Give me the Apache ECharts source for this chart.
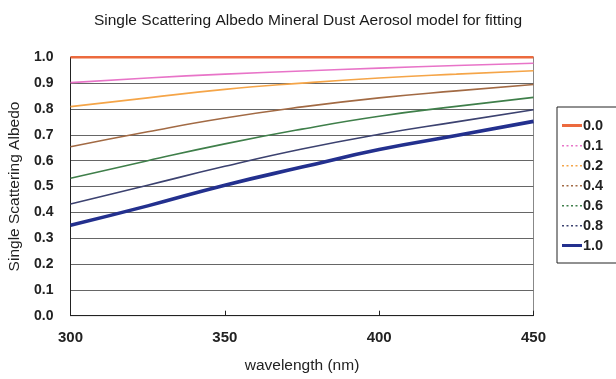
<!DOCTYPE html>
<html>
<head>
<meta charset="utf-8">
<script src="https://cdn.jsdelivr.net/npm/echarts@6/dist/echarts.min.js"></script>
<style>
  html, body { margin: 0; padding: 0; background: #fff; }
  #chart { width: 616px; height: 379px; }
</style>
</head>
<body>
<div id="chart"></div>
<script>
// Wavelengths (nm) at which the albedo is sampled
const wavelengths = [300, 325, 350, 375, 400, 425, 450];

// Single scattering albedo for each mixing fraction
const ssa00 = [1.0, 1.0, 1.0, 1.0, 1.0, 1.0, 1.0];
const ssa01 = [0.902, 0.920, 0.935, 0.947, 0.958, 0.968, 0.977];
const ssa02 = [0.809, 0.843, 0.876, 0.900, 0.920, 0.935, 0.948];
const ssa04 = [0.654, 0.712, 0.765, 0.808, 0.843, 0.870, 0.895];
const ssa06 = [0.532, 0.600, 0.665, 0.722, 0.772, 0.810, 0.845];
const ssa08 = [0.432, 0.505, 0.578, 0.645, 0.702, 0.750, 0.797];
const ssa10 = [0.350, 0.425, 0.505, 0.575, 0.643, 0.697, 0.752];

const seriesNames = ['0.0', '0.1', '0.2', '0.4', '0.6', '0.8', '1.0'];
const seriesValues = [ssa00, ssa01, ssa02, ssa04, ssa06, ssa08, ssa10];

const colors = ['#EC6A3E', '#E874C8', '#F5A548', '#A26A44', '#3F7F4A', '#3C4270', '#23308E'];
const widths = [2.5, 1.6, 1.6, 1.6, 1.6, 1.6, 3.6];
const legendDotted = [false, true, true, true, true, true, false];

// Legend glyphs: a solid bar or a row of small dots
const solidIcon = 'path://M0,0 L20,0 L20,3 L0,3 Z';
const dottedIcon = 'path://M0,1 h2 v1.5 h-2 Z M4.5,1 h2 v1.5 h-2 Z M9,1 h2 v1.5 h-2 Z M13.5,1 h2 v1.5 h-2 Z M18,1 h2 v1.5 h-2 Z M0,0 h0.01 v3 h-0.01 Z';

const font = '"Liberation Sans", Arial, sans-serif';

const chart = echarts.init(document.getElementById('chart'), null, { renderer: 'canvas' });

chart.setOption({
  animation: false,
  backgroundColor: '#ffffff',
  title: {
    text: 'Single Scattering Albedo Mineral Dust Aerosol model for fitting',
    left: 'center',
    top: 8,
    textStyle: { fontFamily: font, fontSize: 15.5, fontWeight: 'normal', color: '#1a1a1a' }
  },
  grid: {
    left: 70.5, right: 82.5, top: 57.3, bottom: 63.3,
    containLabel: false,
    outerBoundsMode: 'none',
    show: true, borderColor: '#888', borderWidth: 1, backgroundColor: 'transparent'
  },
  legend: {
    orient: 'vertical',
    left: 557, top: 107,
    itemWidth: 20, itemHeight: 3, itemGap: 5,
    padding: [11, 40, 10, 5],
    borderColor: '#222', borderWidth: 1,
    textStyle: { fontFamily: font, fontSize: 14.5, fontWeight: 'bold', color: '#222', padding: [0, 0, 0, -4], lineHeight: 10 },
    data: seriesNames.map((n, i) => ({
      name: n,
      icon: legendDotted[i] ? dottedIcon : solidIcon,
      itemStyle: { color: colors[i] }
    }))
  },
  xAxis: {
    type: 'value',
    min: 300, max: 450, interval: 50,
    name: 'wavelength (nm)',
    nameLocation: 'middle',
    nameGap: 42,
    nameTextStyle: { fontFamily: font, fontSize: 15.5, color: '#222' },
    axisLine: { lineStyle: { color: '#222', width: 1 } },
    axisTick: { inside: true, length: 5, lineStyle: { color: '#222' } },
    axisLabel: { fontFamily: font, fontSize: 15, fontWeight: 'bold', color: '#222', margin: 15 },
    splitLine: { show: false }
  },
  yAxis: {
    type: 'value',
    min: 0, max: 1, interval: 0.1,
    name: 'Single Scattering Albedo',
    nameLocation: 'middle',
    nameGap: 42,
    nameTextStyle: { fontFamily: font, fontSize: 15.5, color: '#222' },
    axisLine: { show: true, lineStyle: { color: '#222', width: 1 } },
    axisTick: { show: false },
    axisLabel: {
      fontFamily: font, fontSize: 14, fontWeight: 'bold', color: '#222', margin: 17,
      formatter: v => v.toFixed(1)
    },
    splitLine: { show: true, lineStyle: { color: '#666', width: 1 } }
  },
  series: seriesNames.map((n, i) => ({
    name: n,
    type: 'line',
    smooth: true,
    symbol: 'none',
    z: 10 - i + (i === 6 ? 5 : 0),
    data: wavelengths.map((w, k) => [w, seriesValues[i][k]]),
    lineStyle: { color: colors[i], width: widths[i] },
    itemStyle: { color: colors[i] }
  }))
});
</script>
</body>
</html>
